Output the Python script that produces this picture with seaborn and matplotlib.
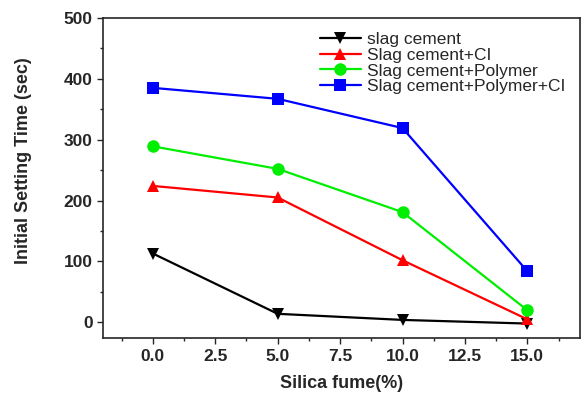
import matplotlib
matplotlib.use("Agg")
import matplotlib.pyplot as plt
import seaborn as sns
import pandas as pd
from matplotlib.ticker import MultipleLocator

silica = [0.0, 5.0, 10.0, 15.0]
slag = [113, 14, 4, -2]
slag_ci = [224, 205, 102, 5]
slag_poly = [289, 252, 181, 20]
slag_poly_ci = [385, 367, 319, 84]
series_names = ["slag cement", "Slag cement+CI", "Slag cement+Polymer", "Slag cement+Polymer+CI"]
xtick_vals = [0, 2.5, 5, 7.5, 10, 12.5, 15]
xtick_labels = ["0.0", "2.5", "5.0", "7.5", "10.0", "12.5", "15.0"]

rows = []
for name, vals in zip(series_names, [slag, slag_ci, slag_poly, slag_poly_ci]):
    for x, v in zip(silica, vals):
        rows.append({"x": x, "y": v, "series": name})
df = pd.DataFrame(rows)

sns.set_style("ticks")
plt.rcParams['font.family'] = ['Liberation Sans', 'DejaVu Sans']

fig = plt.figure(figsize=(5.85, 3.96), dpi=100)
ax = fig.add_axes([0.176, 0.146, 0.815, 0.809])

palette = {"slag cement": "black", "Slag cement+CI": "red",
           "Slag cement+Polymer": "#00ee00", "Slag cement+Polymer+CI": "blue"}
markers = {"slag cement": "v", "Slag cement+CI": "^",
           "Slag cement+Polymer": "o", "Slag cement+Polymer+CI": "s"}

sns.lineplot(data=df, x="x", y="y", hue="series", style="series",
             palette=palette, markers=markers, dashes=False,
             markersize=9, linewidth=1.6, markeredgewidth=0, ax=ax)

ax.set_xlim(-2, 17.1)
ax.set_ylim(-26, 500)
ax.xaxis.set_minor_locator(MultipleLocator(1.25))
ax.yaxis.set_major_locator(MultipleLocator(100))
ax.yaxis.set_minor_locator(MultipleLocator(50))
ax.set_xticks(xtick_vals)
ax.set_xticklabels(xtick_labels)
ax.tick_params(axis='both', which='major', length=4, width=1, labelsize=12.5, direction='out')
ax.tick_params(axis='both', which='minor', length=2.5, width=1, direction='out')
for lab in ax.get_xticklabels() + ax.get_yticklabels():
    lab.set_fontweight('bold')
for s in ax.spines.values():
    s.set_linewidth(1.2)
    s.set_visible(True)

ax.set_xlabel("Silica fume(%)", fontsize=13, fontweight='bold', labelpad=8)
ax.set_ylabel("Initial Setting Time (sec)", fontsize=13, fontweight='bold')
ax.yaxis.set_label_coords(-0.148, 0.553)

leg = ax.legend(loc='upper right', bbox_to_anchor=(0.998, 1.0), frameon=False,
                fontsize=12.5, handlelength=2.4, labelspacing=0.04, borderpad=0.3, handletextpad=0.3)
fig.savefig("out.png", dpi=100)
